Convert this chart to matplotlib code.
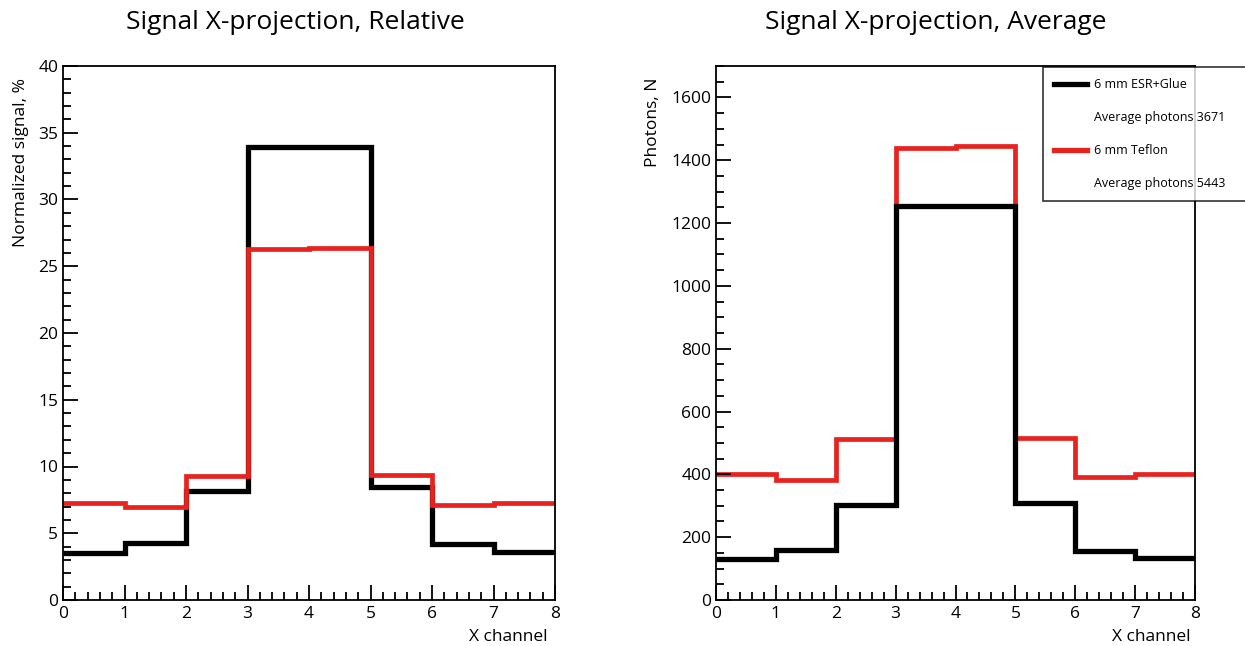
import numpy as np
import matplotlib
matplotlib.use('Agg')
from matplotlib import pyplot as plt
from matplotlib.lines import Line2D
from matplotlib.ticker import MultipleLocator

plt.rcParams['font.family'] = ['Open Sans', 'DejaVu Sans']

edges = np.arange(0, 9)

# relative signal, %
rel_esr = [3.5, 4.3, 8.2, 33.9, 33.9, 8.5, 4.2, 3.6]
rel_teflon = [7.25, 7.0, 9.3, 26.3, 26.4, 9.4, 7.1, 7.3]

# average photons
avg_esr = [130, 159, 303, 1255, 1255, 310, 156, 133]
avg_teflon = [400, 382, 512, 1440, 1444, 516, 390, 401]

titles = ['Signal X-projection, Relative', 'Signal X-projection, Average']
ylabels = ['Normalized signal, %', 'Photons, N']
legend_labels = ['6 mm ESR+Glue', 'Average photons 3671', '6 mm Teflon', 'Average photons 5443']

RED = '#e8231f'

fig = plt.figure(figsize=(12.45, 6.46), dpi=100)
ax1 = fig.add_axes([63/1245, 46/646, 492/1245, 534/646])
ax2 = fig.add_axes([716/1245, 46/646, 479/1245, 534/646])


def style(ax, ylim, ymaj, ymin, title, title_x, ylabel, ylab_x, xlab_x):
    ax.set_xlim(0, 8)
    ax.set_ylim(*ylim)
    ax.xaxis.set_major_locator(MultipleLocator(1))
    ax.xaxis.set_minor_locator(MultipleLocator(0.2))
    ax.yaxis.set_major_locator(MultipleLocator(ymaj))
    ax.yaxis.set_minor_locator(MultipleLocator(ymin))
    ax.tick_params(which='both', direction='in', top=False, right=False, labelsize=12.5, width=1.3)
    ax.tick_params(which='major', length=11)
    ax.tick_params(which='minor', length=5.5)
    ax.tick_params(axis='x', pad=4)
    for s in ax.spines.values():
        s.set_linewidth(1.3)
    ax.set_ylabel(ylabel, fontsize=12.5, loc='top')
    ax.yaxis.set_label_coords(ylab_x, 0.978)
    ax.set_xlabel('X channel', fontsize=12.5, loc='right')
    ax.xaxis.set_label_coords(xlab_x, -0.054)
    ax.text(title_x, 1.082, title, transform=ax.transAxes, ha='center', va='center', fontsize=19)


# left: relative
ax1.stairs(rel_esr, edges, baseline=None, color='black', lw=3.8)
ax1.stairs(rel_teflon, edges, baseline=None, color=RED, lw=3.4)
style(ax1, (0, 40), 5, 1, titles[0], 0.472, ylabels[0], -0.069, 0.984)

# right: average
ax2.stairs(avg_teflon, edges, baseline=None, color=RED, lw=3.4)
ax2.stairs(avg_esr, edges, baseline=None, color='black', lw=3.8)
style(ax2, (0, 1700), 200, 50, titles[1], 0.459, ylabels[1], -0.115, 0.99)

handles = [Line2D([], [], color='black', lw=3.8),
           Line2D([], [], color='none'),
           Line2D([], [], color=RED, lw=3.8),
           Line2D([], [], color='none')]
x0, y1 = 1043/1245, 1 - 67/646
leg = ax2.legend(handles, legend_labels, loc='upper left', mode='expand',
                 bbox_to_anchor=(x0, y1 - 0.3, 1252/1245 - x0, 0.3), bbox_transform=fig.transFigure,
                 fontsize=9, frameon=True, fancybox=False, edgecolor='black',
                 handlelength=2.6, handletextpad=0.6, labelspacing=1.6,
                 borderpad=0.9, borderaxespad=0)
leg.get_frame().set_linewidth(1.2)
leg.set_zorder(10)

fig.savefig('out.png', dpi=100)
